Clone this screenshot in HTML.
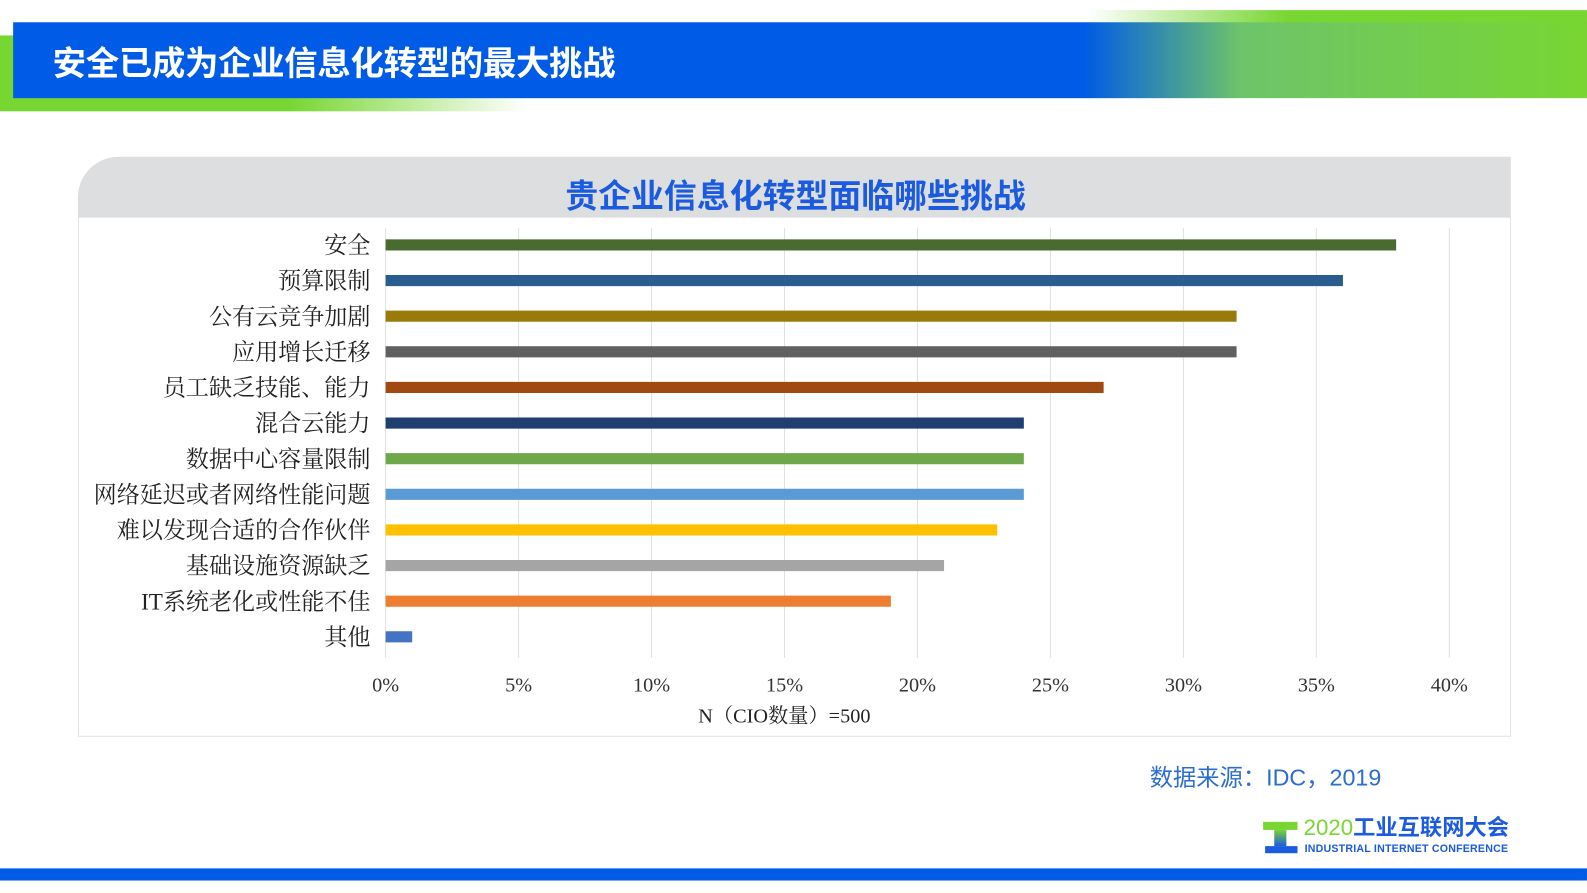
<!DOCTYPE html>
<html><head><meta charset="utf-8"><style>
body{margin:0;width:1587px;height:892px;position:relative;overflow:hidden;background:#fff;font-family:"Liberation Sans","Noto Sans CJK SC",sans-serif}
#wrap{position:absolute;left:0;top:0;width:1568px;height:882px;transform:scale(1.0121);transform-origin:0 0}
.a{position:absolute}
</style></head><body><div id="wrap">
<div class="a" style="left:1075px;top:10px;width:493px;height:14px;background:linear-gradient(90deg,rgba(120,214,50,0),#78d632 40%,#78d632)"></div>
<div class="a" style="left:0;top:35px;width:520px;height:75px;background:linear-gradient(90deg,#78d632 55%,rgba(120,214,50,0))"></div>
<div class="a" style="left:13px;top:22px;width:1555px;height:75px;background:linear-gradient(90deg,#005be6 0%,#005be6 68%,#6ec46a 78%,#78d632 100%)"></div>
<div class="a" style="left:52px;top:36px;color:#fff;font-size:33px;font-weight:bold;letter-spacing:-0.3px">安全已成为企业信息化转型的最大挑战</div>
<div class="a" style="left:77px;top:155px;width:1414px;height:571px;border:1px solid #e2e2e2;border-top-left-radius:40px;background:#fff"></div>
<div class="a" style="left:77px;top:155px;width:1415px;height:60px;background:#dcdee0;border-top-left-radius:40px"></div>
<div class="a" style="left:0;width:1572px;top:168px;text-align:center;color:#1a5be0;font-size:32.5px;font-weight:bold">贵企业信息化转型面临哪些挑战</div>
<svg class="a" style="left:0;top:0" width="1568" height="882"><g id="g"></g></svg>
<div class="a" style="left:1136px;top:749px;color:#2a6fd0;font-size:23px">数据来源：IDC，2019</div>
<div class="a" style="left:1248px;top:812px;width:34px;height:8px;background:#78d632"></div>
<div class="a" style="left:1259px;top:820px;width:12px;height:16px;background:linear-gradient(#78d632,#1a5be0)"></div>
<div class="a" style="left:1250px;top:836px;width:32px;height:7px;background:#1a5be0"></div>
<div class="a" style="left:1288px;top:805px;font-size:22px;line-height:26px;font-weight:bold;color:#1a5be0"><span style="color:#78d632;font-weight:normal">2020</span>工业互联网大会</div>
<div class="a" style="left:1289px;top:833px;font-size:10.5px;line-height:12px;font-weight:bold;color:#1a5be0;letter-spacing:0.2px">INDUSTRIAL INTERNET CONFERENCE</div>
<div class="a" style="left:0;top:858px;width:1568px;height:12px;background:#005be6"></div>
</div>
<script>
const categories=["安全","预算限制","公有云竞争加剧","应用增长迁移","员工缺乏技能、能力","混合云能力","数据中心容量限制","网络延迟或者网络性能问题","难以发现合适的合作伙伴","基础设施资源缺乏","IT系统老化或性能不佳","其他"];
const values=[38,36,32,32,27,24,24,24,23,21,19,1];
const ticks=[0,5,10,15,20,25,30,35,40];
const colors=["#4a6b2f","#2a5d8f","#9a7a0a","#606060","#a04a12","#203f70","#6ea84a","#5a9ad6","#ffc000","#a5a5a5","#ed7d31","#4472c4"];
const g=document.getElementById('g');const NS='http://www.w3.org/2000/svg';
const x=v=>381+v*(1432-381)/40;const y=i=>242+i*35.2;
function mk(t,a,txt){const e=document.createElementNS(NS,t);for(const k in a)e.setAttribute(k,a[k]);if(txt!=null)e.textContent=txt;g.appendChild(e);return e;}
ticks.forEach(t=>{
const l=mk('line',{x1:x(t),x2:x(t),y1:225,y2:650,stroke:'#e0e0e0','stroke-width':1});


const s=mk('text',{x:x(t),y:683,'text-anchor':'middle','font-size':20,'font-family':'"Liberation Serif",serif',fill:'#333'},t+'%');


});
categories.forEach((c,i)=>{
const r=mk('rect',{x:x(0),y:y(i)-5.5,width:x(values[i])-x(0),height:11,fill:colors[i]});


const s=mk('text',{x:366,y:y(i)+8,'text-anchor':'end','font-size':22.8,'font-family':'"Liberation Serif","Noto Serif CJK SC",serif',fill:'#222'},c);


});
const at=mk('text',{x:775,y:714,'text-anchor':'middle','font-size':20,'font-family':'"Liberation Serif","Noto Serif CJK SC",serif',fill:'#222'},'N（CIO数量）=500');


</script>
</body></html>
